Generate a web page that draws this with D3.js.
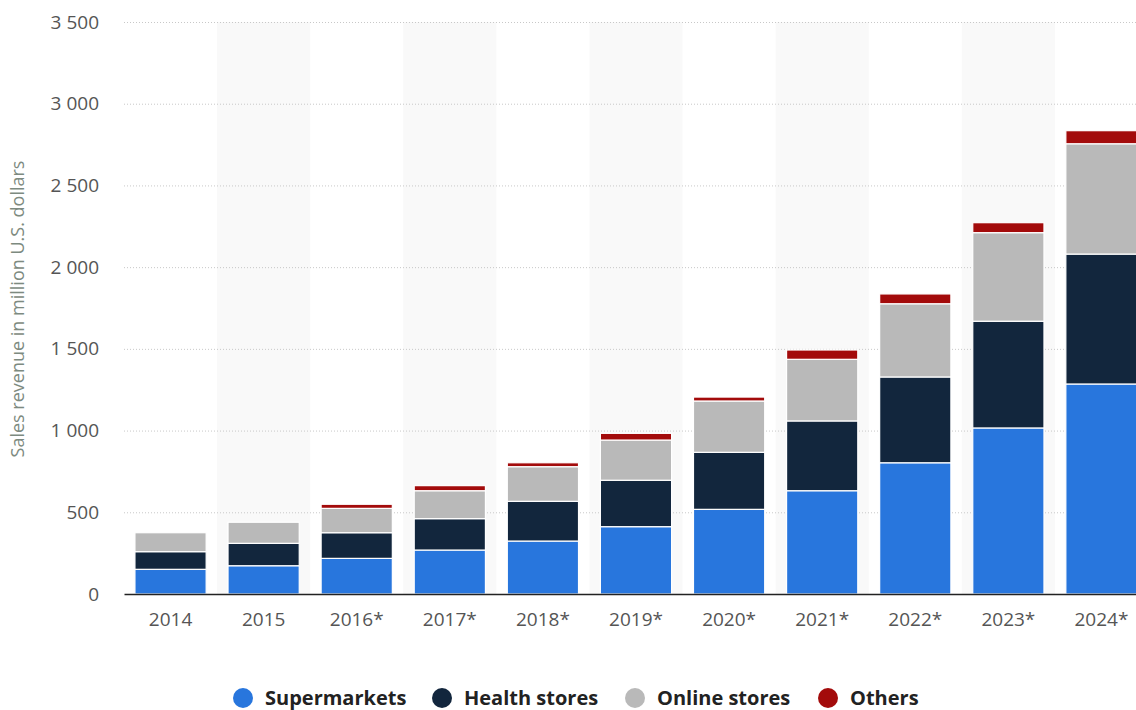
<!DOCTYPE html>
<html>
<head>
<meta charset="utf-8">
<script src="https://cdn.jsdelivr.net/npm/d3@7"></script>
<style>
  body { margin: 0; background: #fff; }
  svg text { font-family: "Open Sans", sans-serif; }
</style>
</head>
<body>
<div id="graphic"></div>
<script>
var years = ["2014", "2015", "2016*", "2017*", "2018*", "2019*", "2020*", "2021*", "2022*", "2023*", "2024*"];
var supermarkets = [151, 173, 218, 269, 324, 412, 518, 632, 803, 1016, 1285];
var healthStores = [108, 137, 157, 192, 243, 284, 349, 427, 525, 653, 795];
var onlineStores = [116, 129, 149, 171, 212, 246, 314, 377, 448, 542, 675];
var others = [0, 0, 25, 31, 24, 41, 24, 57, 60, 61, 80];
var seriesNames = ["Supermarkets", "Health stores", "Online stores", "Others"];
var seriesColors = ["#2876dd", "#12263d", "#b9b9b9", "#a30b0b"];
var yTicks = [0, 500, 1000, 1500, 2000, 2500, 3000, 3500];

var width = 1136, height = 710;
var margin = {top: 22, left: 124, bottom: 116};

var svg = d3.select("#graphic").append("svg")
  .attr("width", width)
  .attr("height", height);

var rows = years.map(function(y, i) {
  return {year: y, "Supermarkets": supermarkets[i], "Health stores": healthStores[i],
    "Online stores": onlineStores[i], "Others": others[i]};
});

var x = d3.scaleBand().domain(years).range([margin.left, 1148]).paddingInner(0.235).paddingOuter(0.1175);
var y = d3.scaleLinear().domain([0, 3500]).range([height - margin.bottom, margin.top]);
var color = d3.scaleOrdinal().domain(seriesNames).range(seriesColors);

// alternating background bands
var step = x.step();
svg.append("g").selectAll("rect")
  .data(years.filter(function(d, i) { return i % 2 == 1; }))
  .enter().append("rect")
  .attr("x", function(d) { return x(d) - x.paddingOuter() * step; })
  .attr("y", margin.top)
  .attr("width", step)
  .attr("height", y(0) - margin.top)
  .attr("fill", "#f9f9f9");

// gridlines + y labels
var yAxis = svg.append("g")
  .attr("transform", "translate(" + margin.left + ",0)")
  .call(d3.axisLeft(y).tickValues(yTicks).tickSize(-(width - margin.left))
    .tickFormat(function(d) { return d3.format(",")(d).replace(",", " "); }));
yAxis.select(".domain").remove();
yAxis.selectAll(".tick line").attr("stroke", "#c8c8c8").attr("stroke-dasharray", "1,2")
  .filter(function(d) { return d == 0; }).remove();
yAxis.selectAll(".tick text").attr("x", -25).attr("fill", "#555").style("font-size", "19px");

// stacked bars
var stack = d3.stack().keys(seriesNames)(rows);
svg.append("g").selectAll("g")
  .data(stack)
  .enter().append("g")
  .attr("fill", function(d) { return color(d.key); })
  .selectAll("rect")
  .data(function(d) { return d; })
  .enter().append("rect")
  .attr("x", function(d) { return x(d.data.year); })
  .attr("y", function(d) { return y(d[1]); })
  .attr("width", x.bandwidth())
  .attr("height", function(d) { return Math.max(0, y(d[0]) - y(d[1])); })
  .attr("stroke", "#fff")
  .attr("stroke-width", 1.2);

// x axis
var xAxis = svg.append("g")
  .attr("transform", "translate(0," + y(0) + ")")
  .call(d3.axisBottom(x).tickSize(0).tickPadding(19));
xAxis.select(".domain").attr("stroke", "#222").attr("stroke-width", 1.6);
xAxis.selectAll(".tick text").attr("fill", "#555").style("font-size", "19px");

// y title
svg.append("text")
  .attr("transform", "translate(24," + 309 + ") rotate(-90)")
  .attr("text-anchor", "middle")
  .attr("fill", "#7d8a80")
  .style("font-size", "18px")
  .text("Sales revenue in million U.S. dollars");

// legend
var legendX = [243, 442, 635, 828];
var legend = svg.append("g").selectAll("g")
  .data(seriesNames)
  .enter().append("g")
  .attr("transform", function(d, i) { return "translate(" + legendX[i] + ",698)"; });
legend.append("circle").attr("r", 10).attr("fill", function(d) { return color(d); });
legend.append("text")
  .attr("x", 22).attr("dy", "0.33em")
  .attr("fill", "#222")
  .style("font-size", "20px")
  .style("font-weight", "700")
  .text(function(d) { return d; });
</script>
</body>
</html>
